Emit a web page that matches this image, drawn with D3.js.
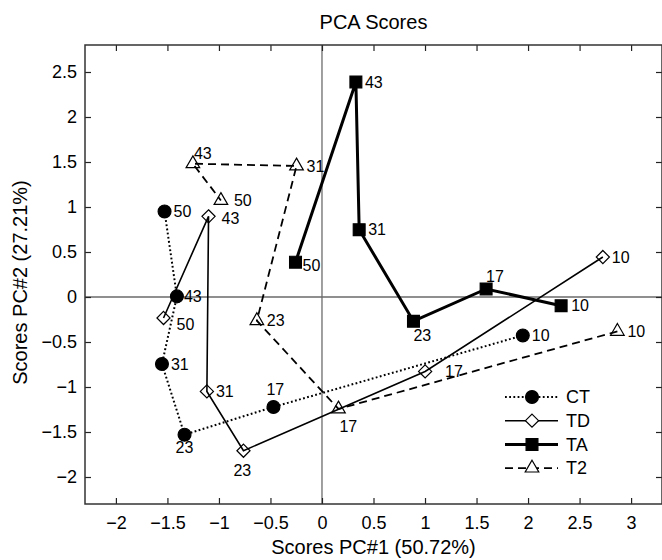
<!DOCTYPE html>
<html>
<head>
<meta charset="utf-8">
<script src="https://cdn.jsdelivr.net/npm/d3@7"></script>
<style>
  body { margin: 0; background: #fff; }
  text { font-family: "Liberation Sans", Arial, sans-serif; fill: #000; }
</style>
</head>
<body>
<script>
// sample labels (same order for every series)
var scoreLabels = ['10', '17', '23', '31', '43', '50']

var ctX = [1.949, -0.471, -1.334, -1.553, -1.408, -1.528]
var ctY = [-0.427, -1.222, -1.53, -0.744, 0.007, 0.951]
var tdX = [2.726, 1.001, -0.762, -1.117, -1.101, -1.538]
var tdY = [0.444, -0.827, -1.708, -1.049, 0.896, -0.233]
var taX = [2.321, 1.593, 0.888, 0.361, 0.329, -0.257]
var taY = [-0.097, 0.089, -0.269, 0.748, 2.389, 0.387]
var t2X = [2.867, 0.16, -0.632, -0.247, -1.253, -0.981]
var t2Y = [-0.382, -1.244, -0.263, 1.456, 1.481, 1.073]

var xTicks = [-2, -1.5, -1, -0.5, 0, 0.5, 1, 1.5, 2, 2.5, 3]
var yTicks = [-2, -1.5, -1, -0.5, 0, 0.5, 1, 1.5, 2, 2.5]

// label placement [dx, dy] from the marker, text anchored at start
var labelOffsets = {
	CT: [[9, 0], [-7, -18], [-9, 13], [9, 0], [7, 0], [9, 0]],
	TD: [[9, 0], [20, 0], [-10, 20], [9, 0], [13, 2], [13, 6]],
	TA: [[10, 0], [0, -13], [0, 14], [9, 0], [9, 0], [7, 3]],
	T2: [[10, 0], [1, 17], [10, 0], [10, 0], [1, -10], [13, 0]]
}

var series = [
	{name: 'CT', xs: ctX, ys: ctY, symbol: d3.symbolCircle, size: 130, fill: '#000', width: 2, dash: '1.8,2.4'},
	{name: 'TD', xs: tdX, ys: tdY, symbol: d3.symbolDiamond2, size: 110, fill: 'none', width: 1.6, dash: null},
	{name: 'TA', xs: taX, ys: taY, symbol: d3.symbolSquare, size: 140, fill: '#000', width: 3, dash: null},
	{name: 'T2', xs: t2X, ys: t2Y, symbol: d3.symbolTriangle, size: 80, fill: 'none', width: 1.8, dash: '8,5'}
]

var margin = {left: 85, top: 45, right: 0, bottom: 56}
var width = 662 - margin.left - margin.right
var height = 560 - margin.top - margin.bottom

var x = d3.scaleLinear().domain([-2.3, 3.3]).range([0, width])
var y = d3.scaleLinear().domain([-2.3, 2.8]).range([height, 0])

var svg = d3.select('body').append('svg').attr('width', 662).attr('height', 560)
var g = svg.append('g').attr('transform', 'translate(' + margin.left + ',' + margin.top + ')')

// zero lines
g.append('line').attr('x1', x(0)).attr('x2', x(0)).attr('y1', 0).attr('y2', height)
	.attr('stroke', '#808080').attr('stroke-width', 1.5)
g.append('line').attr('x1', 0).attr('x2', width).attr('y1', y(0)).attr('y2', y(0))
	.attr('stroke', '#6a6a6a').attr('stroke-width', 1.5)

// axes, ticks pointing inward
var axisStyle = function(sel) {
	sel.select('.domain').remove()
	sel.selectAll('line').attr('stroke', '#222').attr('stroke-width', 1.2)
	sel.selectAll('text').attr('font-size', '18px').attr('font-family', '"Liberation Sans", Arial, sans-serif')
}
g.append('g').attr('transform', 'translate(0,' + height + ')')
	.call(d3.axisBottom(x).tickValues(xTicks).tickSize(-6).tickPadding(12).tickFormat(d3.format('')))
	.call(axisStyle)
g.append('g')
	.call(d3.axisTop(x).tickValues(xTicks).tickSize(-6).tickFormat(''))
	.call(axisStyle)
g.append('g')
	.call(d3.axisLeft(y).tickValues(yTicks).tickSize(-6).tickPadding(8).tickFormat(d3.format('')))
	.call(axisStyle)
g.append('g').attr('transform', 'translate(' + width + ',0)')
	.call(d3.axisRight(y).tickValues(yTicks).tickSize(-6).tickFormat(''))
	.call(axisStyle)

g.append('rect').attr('width', width).attr('height', height)
	.attr('fill', 'none').attr('stroke', '#333').attr('stroke-width', 1.5)

var line = d3.line()
	.x(function(d) { return x(d.x) })
	.y(function(d) { return y(d.y) })

series.forEach(function(s) {
	var pts = scoreLabels.map(function(lab, i) { return {x: s.xs[i], y: s.ys[i], label: lab, off: labelOffsets[s.name][i]} })
	g.append('path').attr('d', line(pts))
		.attr('fill', 'none').attr('stroke', '#000')
		.attr('stroke-width', s.width)
		.attr('stroke-dasharray', s.dash)
	var sym = d3.symbol().type(s.symbol).size(s.size)
	g.selectAll(null).data(pts).enter().append('path')
		.attr('d', sym)
		.attr('transform', function(d) { return 'translate(' + x(d.x) + ',' + y(d.y) + ')' })
		.attr('fill', s.fill).attr('stroke', '#000').attr('stroke-width', 1.2)
	g.selectAll(null).data(pts).enter().append('text')
		.attr('x', function(d) { return x(d.x) + d.off[0] })
		.attr('y', function(d) { return y(d.y) + d.off[1] })
		.attr('dy', '0.35em')
		.attr('font-size', '16px')
		.text(function(d) { return d.label })
})

// legend
var legend = g.append('g').attr('transform', 'translate(' + (505 - margin.left) + ',' + (397 - margin.top) + ')')
series.forEach(function(s, i) {
	var row = legend.append('g').attr('transform', 'translate(0,' + (i * 23.7) + ')')
	row.append('line').attr('x1', 0).attr('x2', 53)
		.attr('stroke', '#000').attr('stroke-width', s.width).attr('stroke-dasharray', s.dash)
	row.append('path').attr('d', d3.symbol().type(s.symbol).size(s.size)())
		.attr('transform', 'translate(27,0)')
		.attr('fill', s.fill === 'none' ? '#fff' : s.fill).attr('stroke', '#000').attr('stroke-width', 1.2)
	row.append('text').attr('x', 61).attr('dy', '0.35em').attr('font-size', '18px').text(s.name)
})

// titles
svg.append('text').attr('x', margin.left + width / 2).attr('y', 29)
	.attr('text-anchor', 'middle').attr('font-size', '20px').text('PCA Scores')
svg.append('text').attr('x', margin.left + width / 2).attr('y', 554)
	.attr('text-anchor', 'middle').attr('font-size', '20px').text('Scores PC#1 (50.72%)')
svg.append('text')
	.attr('transform', 'translate(27,' + (margin.top + height / 2 + 8) + ') rotate(-90)')
	.attr('text-anchor', 'middle').attr('font-size', '20px').text('Scores PC#2 (27.21%)')
</script>
</body>
</html>
